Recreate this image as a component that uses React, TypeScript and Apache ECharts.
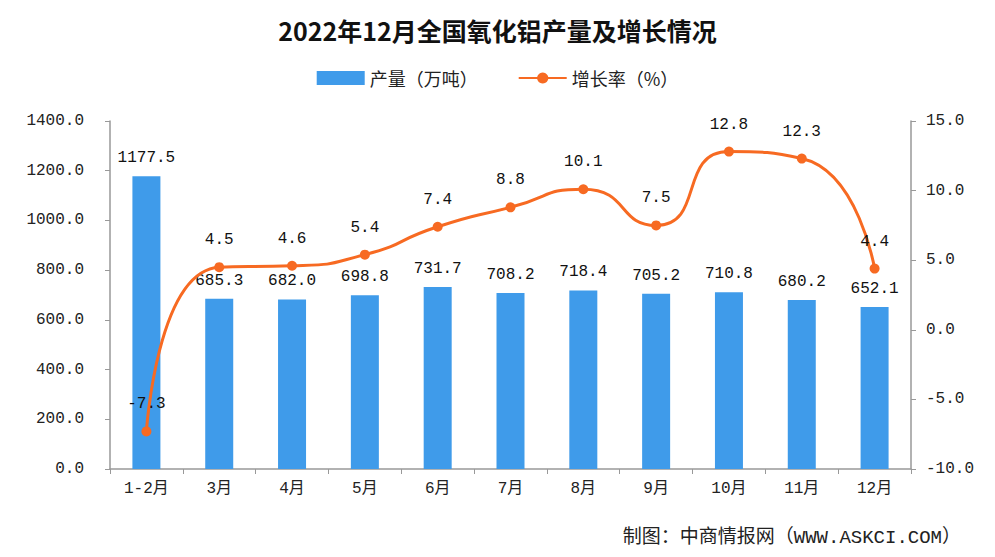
import React, { useEffect, useRef } from "react";
import * as echarts from "echarts";

const categories = ["1-2月", "3月", "4月", "5月", "6月", "7月", "8月", "9月", "10月", "11月", "12月"];
const production = [1177.5, 685.3, 682.0, 698.8, 731.7, 708.2, 718.4, 705.2, 710.8, 680.2, 652.1];
const growth = [-7.3, 4.5, 4.6, 5.4, 7.4, 8.8, 10.1, 7.5, 12.8, 12.3, 4.4];

const FONT = "'Noto Sans CJK SC', 'DejaVu Sans', sans-serif";
const MONO = "'Liberation Mono', 'Noto Sans CJK SC', monospace";

export default function App() {
  const ref = useRef<HTMLDivElement>(null);
  useEffect(() => {
    const chart = echarts.init(ref.current!, null, { renderer: "svg" });
    chart.setOption({
      animation: false,
      backgroundColor: "#ffffff",
      textStyle: { fontFamily: FONT },
      title: {
        text: "2022年12月全国氧化铝产量及增长情况",
        left: "center",
        top: 12,
        textStyle: { fontSize: 25, fontWeight: "bold", color: "#111", fontFamily: FONT },
      },
      legend: {
        top: 64,
        left: "center",
        itemGap: 40,
        itemWidth: 48,
        itemHeight: 14,
        textStyle: { fontSize: 18, color: "#222", fontFamily: FONT },
        data: [
          { name: "产量（万吨）", icon: "rect" },
          { name: "增长率（%）" },
        ],
      },
      grid: { left: 110, right: 84, top: 121, bottom: 88 },
      xAxis: {
        type: "category",
        data: categories,
        axisLine: { lineStyle: { color: "#999", width: 1.5 } },
        axisTick: { show: true, alignWithLabel: false, lineStyle: { color: "#999" } },
        axisLabel: { fontSize: 16, color: "#222", margin: 12, fontFamily: MONO },
      },
      yAxis: [
        {
          type: "value",
          min: 0,
          max: 1400,
          interval: 200,
          axisLine: { show: true, lineStyle: { color: "#999", width: 1.5 } },
          axisTick: { show: true, lineStyle: { color: "#999" } },
          splitLine: { show: false },
          axisLabel: { fontSize: 16, color: "#222", margin: 26, formatter: (v: number) => v.toFixed(1), fontFamily: MONO },
        },
        {
          type: "value",
          min: -10,
          max: 15,
          interval: 5,
          position: "right",
          axisLine: { show: true, lineStyle: { color: "#999", width: 1.5 } },
          axisTick: { show: true, lineStyle: { color: "#999" } },
          splitLine: { show: false },
          axisLabel: { fontSize: 16, color: "#222", margin: 15, formatter: (v: number) => v.toFixed(1), fontFamily: MONO },
        },
      ],
      series: [
        {
          name: "产量（万吨）",
          type: "bar",
          data: production,
          barWidth: 28,
          itemStyle: { color: "#3f9bea" },
          label: {
            show: true,
            position: "top",
            distance: 10,
            fontSize: 16,
            color: "#111",
            formatter: (p: any) => p.value.toFixed(1),
            fontFamily: MONO,
          },
        },
        {
          name: "增长率（%）",
          type: "line",
          yAxisIndex: 1,
          data: growth,
          smooth: 0.6,
          symbol: "circle",
          symbolSize: 10,
          lineStyle: { color: "#f76a22", width: 3 },
          itemStyle: { color: "#f76a22" },
          label: {
            show: true,
            position: "top",
            distance: 14,
            fontSize: 16,
            color: "#111",
            formatter: (p: any) => p.value.toFixed(1),
            fontFamily: MONO,
          },
          z: 3,
        },
      ],
      graphic: [
        {
          type: "text",
          right: 34,
          bottom: 10,
          style: {
            text: "制图：中商情报网（WWW.ASKCI.COM）",
            fontSize: 19,
            fill: "#222",
            fontFamily: MONO,
          },
        },
      ],
    });
    return () => chart.dispose();
  }, []);
  return <div ref={ref} style={{ width: 995, height: 557, position: "absolute", left: 0, top: 0 }} />;
}
